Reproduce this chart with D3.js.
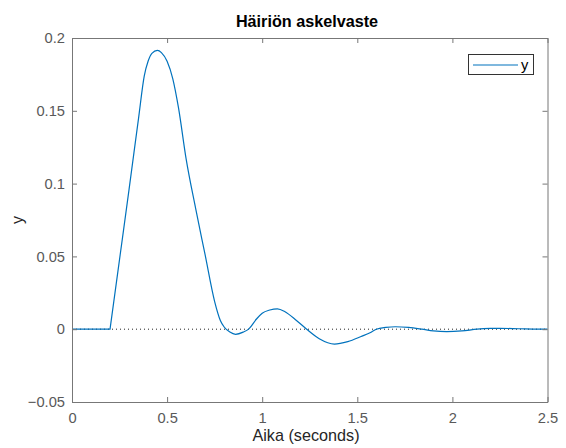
<!DOCTYPE html>
<html><head><meta charset="utf-8">
<script src="https://cdn.jsdelivr.net/npm/d3@7"></script>
<style>body{margin:0;background:#fff}svg{display:block}</style>
</head><body>
<script>
const titleText = "Häiriön askelvaste";
const xLabel = "Aika (seconds)";
const yLabel = "y";
const seriesName = "y";
const xTicks = [0, 0.5, 1, 1.5, 2, 2.5];
const yTicks = [-0.05, 0, 0.05, 0.1, 0.15, 0.2];
const tValues = [0, 0.2, 0.25, 0.3, 0.35, 0.38, 0.40, 0.42, 0.449, 0.47, 0.5, 0.53, 0.56, 0.6, 0.65, 0.7, 0.75, 0.78, 0.8, 0.83, 0.86, 0.9, 0.93, 0.97, 1.0, 1.04, 1.08, 1.12, 1.18, 1.234, 1.3, 1.38, 1.45, 1.52, 1.567, 1.6, 1.65, 1.70, 1.77, 1.84, 1.9, 1.97, 2.05, 2.13, 2.2, 2.25, 2.35, 2.45, 2.5];
const yValues = [0, 0, 0.048, 0.096, 0.145, 0.174, 0.184, 0.1895, 0.1915, 0.190, 0.184, 0.172, 0.152, 0.117, 0.083, 0.051, 0.019, 0.006, 0.0015, -0.002, -0.0035, -0.002, 0.0002, 0.007, 0.011, 0.0132, 0.014, 0.012, 0.006, 0, -0.0065, -0.0102, -0.0085, -0.005, -0.0024, 0, 0.0012, 0.0017, 0.0012, 0, -0.0012, -0.0017, -0.0012, 0, 0.0005, 0.0006, 0.0003, 0, 0];
const delayTime = 0.2;

const W = 566, H = 448;
const m = {left: 72, right: 566 - 547.5, top: 38, bottom: 448 - 402};
const svg = d3.select("body").append("svg").attr("width", W).attr("height", H)
  .style("font-family", "'Liberation Sans', Arial, Helvetica, sans-serif");

const x = d3.scaleLinear().domain([0, 2.5]).range([m.left, W - m.right]);
const y = d3.scaleLinear().domain([-0.05, 0.2]).range([H - m.bottom, m.top]);

const axisColor = "#777";
const textColor = "#595959";
const fs = 14.7;

// zero dotted line
svg.append("line").attr("x1", x(0)).attr("x2", x(2.5)).attr("y1", y(0)).attr("y2", y(0))
  .attr("stroke", "#222").attr("stroke-width", 1).attr("stroke-dasharray", "1,3");

// data line: flat part before the delay drawn straight, the rest smooth
const data = tValues.map((t, i) => ({t, v: yValues[i]}));
const before = data.filter(d => d.t <= delayTime);
const after = data.filter(d => d.t >= delayTime);
const lineLin = d3.line().x(d => x(d.t)).y(d => y(d.v));
const lineSm = d3.line().x(d => x(d.t)).y(d => y(d.v)).curve(d3.curveMonotoneX);
svg.append("path").attr("d", lineLin(before) + lineSm(after).replace(/^M/, "L")).attr("fill", "none")
  .attr("stroke", "#0072BD").attr("stroke-width", 1.2).attr("stroke-linejoin", "round");

// axes
const tl = 5;
const gx = svg.append("g").attr("transform", `translate(0,${y(-0.05)})`)
  .call(d3.axisBottom(x).tickValues(xTicks).tickSizeInner(-tl).tickSizeOuter(0).tickPadding(12).tickFormat(d3.format("")));
const gxt = svg.append("g").attr("transform", `translate(0,${y(0.2)})`)
  .call(d3.axisTop(x).tickValues(xTicks).tickSizeInner(-tl).tickSizeOuter(0).tickFormat(""));
const gy = svg.append("g").attr("transform", `translate(${x(0)},0)`)
  .call(d3.axisLeft(y).tickValues(yTicks).tickSizeInner(-tl).tickSizeOuter(0).tickPadding(12).tickFormat(d3.format("")));
const gyr = svg.append("g").attr("transform", `translate(${x(2.5)},0)`)
  .call(d3.axisRight(y).tickValues(yTicks).tickSizeInner(-tl).tickSizeOuter(0).tickFormat(""));
[gx, gxt, gy, gyr].forEach(g => {
  g.select(".domain").attr("stroke", axisColor);
  g.selectAll(".tick line").attr("stroke", axisColor);
  g.selectAll(".tick text").attr("fill", textColor).style("font-size", fs + "px");
});
gy.selectAll(".tick text").attr("x", -7);
gx.selectAll(".tick text").attr("y", 11);

// title
svg.append("text").attr("x", 307).attr("y", 26.5).attr("text-anchor", "middle")
  .style("font-size", "16.2px").style("font-weight", "bold").attr("fill", "#000").text(titleText);
// x label
svg.append("text").attr("x", 306).attr("y", 441).attr("text-anchor", "middle")
  .style("font-size", "16.2px").attr("fill", "#262626").text(xLabel);
// y label
svg.append("text").attr("transform", `translate(23,220) rotate(-90)`).attr("text-anchor", "middle")
  .style("font-size", "16.2px").attr("fill", "#262626").text(yLabel);

// legend
const lg = svg.append("g");
lg.append("rect").attr("x", 468.5).attr("y", 54.5).attr("width", 65).attr("height", 20)
  .attr("fill", "#fff").attr("stroke", "#333").attr("stroke-width", 1);
lg.append("line").attr("x1", 473).attr("x2", 518).attr("y1", 65).attr("y2", 65)
  .attr("stroke", "#0072BD").attr("stroke-width", 1.2);
lg.append("text").attr("x", 521).attr("y", 69.5).style("font-size", fs + "px").attr("fill", "#000").text(seriesName);
</script>
</body></html>
